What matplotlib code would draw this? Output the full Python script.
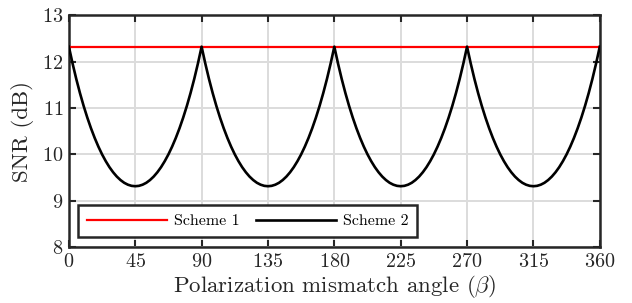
import matplotlib
matplotlib.use("Agg")
import matplotlib.pyplot as plt

plt.rcParams["font.family"] = "cmr10"
plt.rcParams["mathtext.fontset"] = "cm"
plt.rcParams["axes.formatter.use_mathtext"] = True

# polarization mismatch angle (deg), every 2.5 deg
beta = [i * 2.5 for i in range(145)]

# scheme 1: constant SNR (dB)
snr_scheme1 = [12.32] * len(beta)

# scheme 2: SNR (dB)
snr_scheme2 = [
    12.320, 11.957, 11.624, 11.320, 11.042, 10.789, 10.559, 10.351, 10.164, 9.997,
    9.850, 9.721, 9.611, 9.518, 9.443, 9.384, 9.343, 9.318, 9.310,
    9.318, 9.343, 9.384, 9.443, 9.518, 9.611, 9.721, 9.850, 9.997,
    10.164, 10.351, 10.559, 10.789, 11.042, 11.320, 11.624, 11.957, 12.320,
    11.957, 11.624, 11.320, 11.042, 10.789, 10.559, 10.351, 10.164, 9.997,
    9.850, 9.721, 9.611, 9.518, 9.443, 9.384, 9.343, 9.318, 9.310,
    9.318, 9.343, 9.384, 9.443, 9.518, 9.611, 9.721, 9.850, 9.997,
    10.164, 10.351, 10.559, 10.789, 11.042, 11.320, 11.624, 11.957, 12.320,
    11.957, 11.624, 11.320, 11.042, 10.789, 10.559, 10.351, 10.164, 9.997,
    9.850, 9.721, 9.611, 9.518, 9.443, 9.384, 9.343, 9.318, 9.310,
    9.318, 9.343, 9.384, 9.443, 9.518, 9.611, 9.721, 9.850, 9.997,
    10.164, 10.351, 10.559, 10.789, 11.042, 11.320, 11.624, 11.957, 12.320,
    11.957, 11.624, 11.320, 11.042, 10.789, 10.559, 10.351, 10.164, 9.997,
    9.850, 9.721, 9.611, 9.518, 9.443, 9.384, 9.343, 9.318, 9.310,
    9.318, 9.343, 9.384, 9.443, 9.518, 9.611, 9.721, 9.850, 9.997,
    10.164, 10.351, 10.559, 10.789, 11.042, 11.320, 11.624, 11.957, 12.320,
]

x_ticks = [0, 45, 90, 135, 180, 225, 270, 315, 360]
y_ticks = [8, 9, 10, 11, 12, 13]

dark = "#262626"

fig = plt.figure(figsize=(6.32, 3.03), dpi=100)
ax = fig.add_axes([0.109, 0.185, 0.840, 0.765])

ax.plot(beta, snr_scheme1, color="#ff0000", lw=1.6, label="Scheme 1", zorder=3)
ax.plot(beta, snr_scheme2, color="black", lw=1.9, label="Scheme 2", zorder=3)

ax.set_xlim(0, 360)
ax.set_ylim(8, 13)
ax.set_xticks(x_ticks)
ax.set_yticks(y_ticks)
ax.grid(True, color="#dcdcdc", lw=1.4)
ax.set_axisbelow(True)

ax.tick_params(direction="in", top=True, right=True, length=5, width=1.5,
               colors=dark, labelsize=14.5, pad=4)
for s in ax.spines.values():
    s.set_color(dark)
    s.set_linewidth(1.8)

ax.set_xlabel(r"Polarization mismatch angle ($\beta$)", fontsize=16.5,
              color=dark, labelpad=2)
ax.set_ylabel("SNR (dB)", fontsize=16.5, color=dark, labelpad=6)

leg = ax.legend(loc="lower left", bbox_to_anchor=(0.017, 0.043), borderaxespad=0,
                ncol=2, fontsize=11.5, handlelength=5, handletextpad=0.45,
                columnspacing=1.05, borderpad=0.55, fancybox=False, framealpha=1)
leg.get_frame().set_edgecolor(dark)
leg.get_frame().set_linewidth(1.8)

fig.savefig("out.png", dpi=100)
